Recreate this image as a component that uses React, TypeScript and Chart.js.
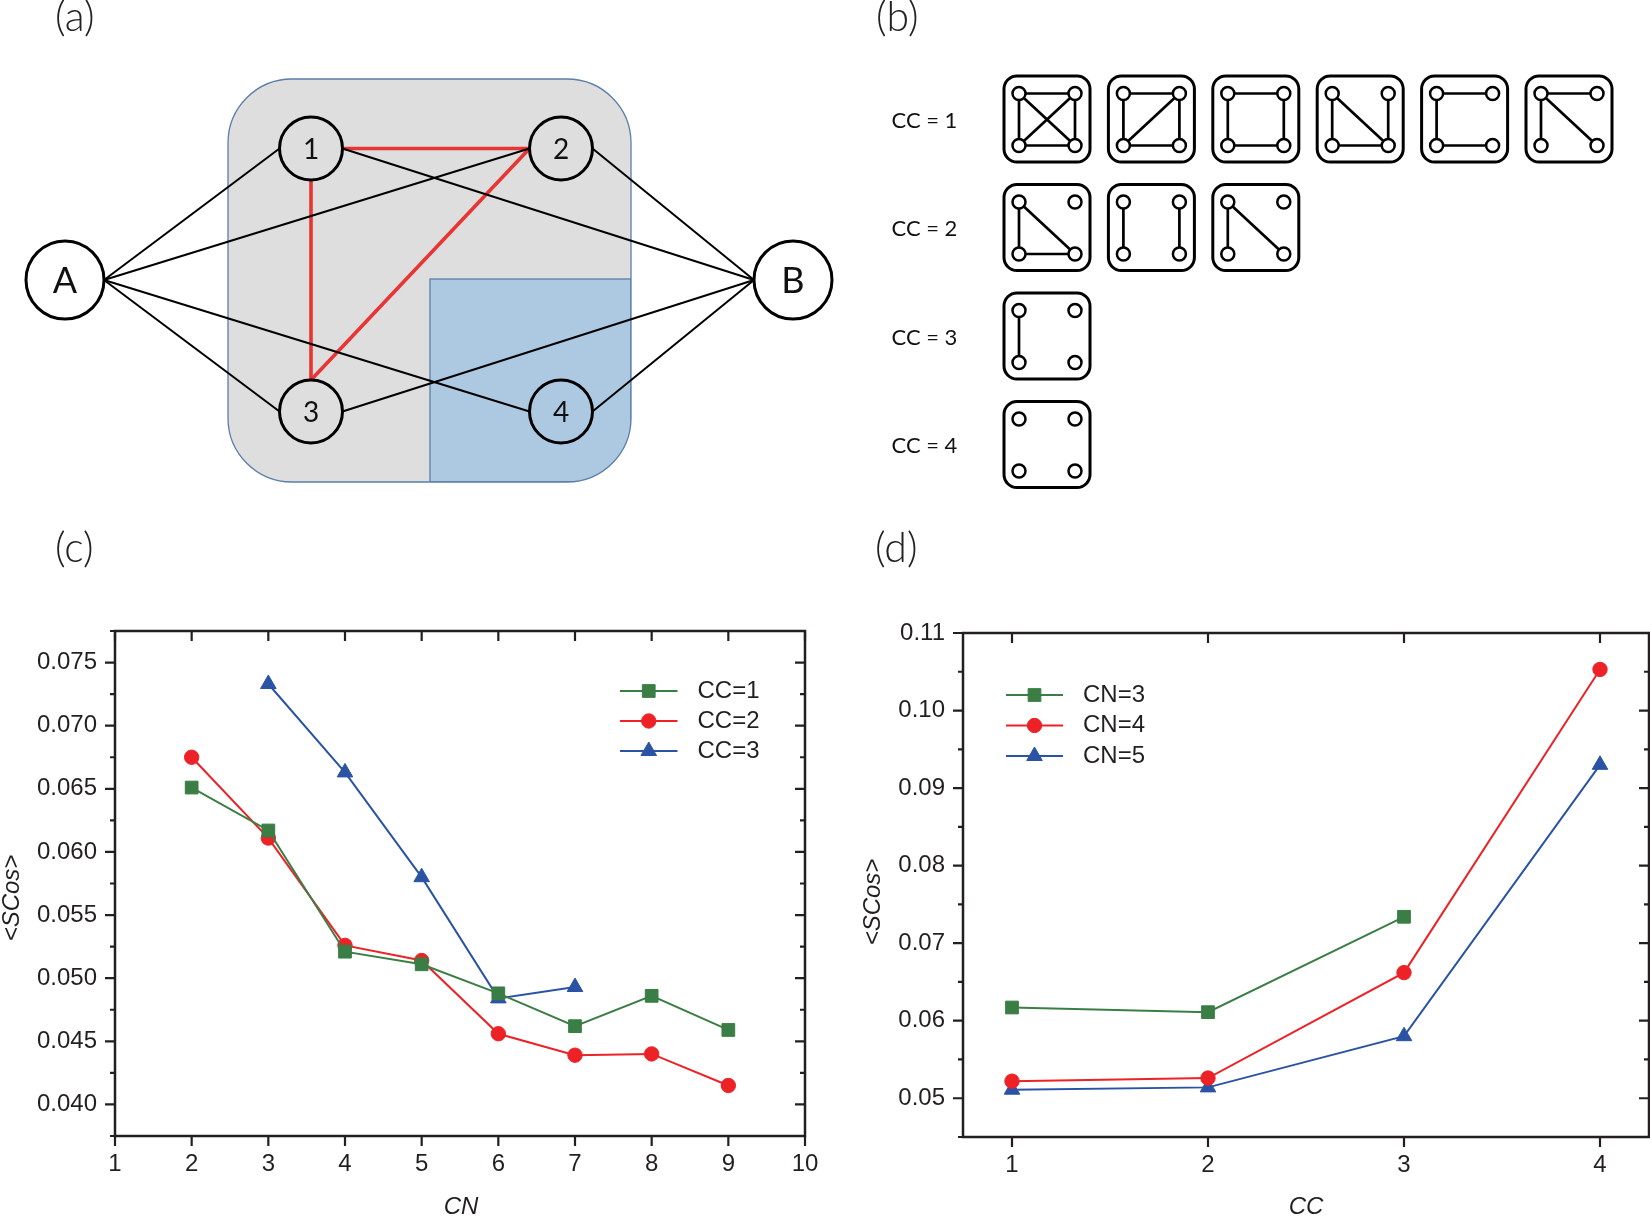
import React, { useEffect, useRef } from 'react';
import { Chart, registerables } from 'chart.js';

Chart.register(...registerables);

const PAGE_W = 1650;
const PAGE_H = 1216;

// ---------------- panel (c): <SCos> vs CN ----------------
const CN_C = [2, 3, 4, 5, 6, 7, 8, 9];
const CC1_SCOS = [0.0651, 0.0617, 0.0521, 0.0511, 0.0488, 0.0462, 0.0486, 0.0459];
const CC2_SCOS = [0.0675, 0.0611, 0.0526, 0.0514, 0.0456, 0.0439, 0.044, 0.0415];
const CN_C_CC3 = [3, 4, 5, 6, 7];
const CC3_SCOS = [0.0733, 0.0663, 0.058, 0.0484, 0.0493];
const X_TICKS_C = [1, 2, 3, 4, 5, 6, 7, 8, 9, 10];
const Y_TICKS_C = [0.04, 0.045, 0.05, 0.055, 0.06, 0.065, 0.07, 0.075];
const LEGEND_C = ['CC=1', 'CC=2', 'CC=3'];

// ---------------- panel (d): <SCos> vs CC ----------------
const CC_D = [1, 2, 3, 4];
const CC_D_CN3 = [1, 2, 3];
const CN3_SCOS = [0.0617, 0.0611, 0.0734];
const CN4_SCOS = [0.0522, 0.0526, 0.0662, 0.1053];
const CN5_SCOS = [0.0511, 0.0514, 0.058, 0.093];
const X_TICKS_D = [1, 2, 3, 4];
const Y_TICKS_D = [0.05, 0.06, 0.07, 0.08, 0.09, 0.1, 0.11];
const LEGEND_D = ['CN=3', 'CN=4', 'CN=5'];

// ---------------- panel (a): network diagram ----------------
const NET_NODES = [
  { id: 'A', x: 65, y: 280, r: 39 },
  { id: 'B', x: 793, y: 280, r: 39 },
  { id: '1', x: 311, y: 148.5, r: 31.5 },
  { id: '2', x: 561, y: 148.5, r: 31.5 },
  { id: '3', x: 311, y: 411.5, r: 31.5 },
  { id: '4', x: 561, y: 411.5, r: 31.5 },
];
// [from, fromSide, to, toSide]
const NET_BLACK_EDGES = [
  ['A', 'right', '1', 'left'],
  ['A', 'right', '2', 'left'],
  ['A', 'right', '3', 'left'],
  ['A', 'right', '4', 'left'],
  ['1', 'right', 'B', 'left'],
  ['2', 'right', 'B', 'left'],
  ['3', 'right', 'B', 'left'],
  ['4', 'right', 'B', 'left'],
];
const NET_RED_EDGES = [
  ['1', 'right', '2', 'left'],
  ['1', 'bottom', '3', 'top'],
  ['2', 'left', '3', 'top'],
];
const NET_GRAY_REGION = { x0: 228, y0: 79, x1: 631, y1: 482, r: 64 };
const NET_BLUE_REGION = { x0: 430, y0: 279, x1: 631, y1: 482 };

// ---------------- panel (b): motifs ----------------
// corner nodes: 0 = top-left, 1 = top-right, 2 = bottom-left, 3 = bottom-right
const MOTIF_ROW_LABELS = ['CC = 1', 'CC = 2', 'CC = 3', 'CC = 4'];
const MOTIFS_CC1 = [
  [[0, 1], [2, 3], [0, 2], [1, 3], [0, 3], [1, 2]],
  [[0, 1], [2, 3], [0, 2], [1, 3], [1, 2]],
  [[0, 1], [2, 3], [0, 2], [1, 3]],
  [[0, 2], [0, 3], [2, 3], [1, 3]],
  [[0, 1], [0, 2], [2, 3]],
  [[0, 1], [0, 2], [0, 3]],
];
const MOTIFS_CC2 = [
  [[0, 2], [0, 3], [2, 3]],
  [[0, 2], [1, 3]],
  [[0, 2], [0, 3]],
];
const MOTIFS_CC3 = [[[0, 2]]];
const MOTIFS_CC4 = [[]];
const MOTIF_ROWS = [MOTIFS_CC1, MOTIFS_CC2, MOTIFS_CC3, MOTIFS_CC4];

// ---------------- styles ----------------
const GREEN = '#3b7e45';
const RED = '#ec2227';
const BLUE = '#2a53a4';
const INK = '#231f20';
const SANS = "'Liberation Sans', Arial, Helvetica, sans-serif";
const DIAG_FONT = "Lato, 'Open Sans', 'Noto Sans', sans-serif";

const PANEL_LABELS = [
  { text: '(a)', left: 55, top: -4.5 },
  { text: '(b)', left: 876, top: -4.5 },
  { text: '(c)', left: 55, top: 526.5 },
  { text: '(d)', left: 875, top: 526.5 },
];

const toPoints = (xs: number[], ys: number[]) => xs.map((x, i) => ({ x, y: ys[i] }));

function drawMarker(ctx: CanvasRenderingContext2D, style: string, x: number, y: number, r: number) {
  ctx.beginPath();
  if (style === 'rect') {
    const h = r * Math.SQRT1_2;
    ctx.rect(x - h, y - h, 2 * h, 2 * h);
  } else if (style === 'triangle') {
    let a = 0;
    ctx.moveTo(x + Math.sin(a) * r, y - Math.cos(a) * r);
    a += (2 * Math.PI) / 3;
    ctx.lineTo(x + Math.sin(a) * r, y - Math.cos(a) * r);
    a += (2 * Math.PI) / 3;
    ctx.lineTo(x + Math.sin(a) * r, y - Math.cos(a) * r);
    ctx.closePath();
  } else {
    ctx.arc(x, y, r, 0, Math.PI * 2);
  }
  ctx.fill();
  ctx.stroke();
}

function roundRectPath(ctx: CanvasRenderingContext2D, x0: number, y0: number, x1: number, y1: number, r: number) {
  ctx.beginPath();
  ctx.moveTo(x0 + r, y0);
  ctx.lineTo(x1 - r, y0);
  ctx.arcTo(x1, y0, x1, y0 + r, r);
  ctx.lineTo(x1, y1 - r);
  ctx.arcTo(x1, y1, x1 - r, y1, r);
  ctx.lineTo(x0 + r, y1);
  ctx.arcTo(x0, y1, x0, y1 - r, r);
  ctx.lineTo(x0, y0 + r);
  ctx.arcTo(x0, y0, x0 + r, y0, r);
  ctx.closePath();
}

// frame + Origin-style ticks (outward bottom/left, inward top/right, minor ticks on y)
function frameTicksPlugin(yMinorHalfStep: number) {
  return {
    id: 'frameTicks',
    afterDraw(chart: any) {
      const { ctx, chartArea: a, scales } = chart;
      const xs = scales.x;
      const ys = scales.y;
      const MAJ = 10;
      const MIN = 5;
      ctx.save();
      ctx.strokeStyle = INK;
      ctx.lineWidth = 2.2;
      ctx.beginPath();
      xs.ticks.forEach((t: any) => {
        const px = xs.getPixelForValue(t.value);
        ctx.moveTo(px, a.bottom);
        ctx.lineTo(px, a.bottom + MAJ);
        ctx.moveTo(px, a.top);
        ctx.lineTo(px, a.top + MAJ);
      });
      const minors: number[] = [];
      ys.ticks.forEach((t: any) => {
        const py = ys.getPixelForValue(t.value);
        ctx.moveTo(a.left, py);
        ctx.lineTo(a.left - MAJ, py);
        ctx.moveTo(a.right, py);
        ctx.lineTo(a.right - MAJ, py);
        [-yMinorHalfStep, yMinorHalfStep].forEach((d) => {
          const m = t.value + d;
          if (m >= ys.min - 1e-9 && m <= ys.max + 1e-9 && !minors.some((v) => Math.abs(v - m) < 1e-9)) minors.push(m);
        });
      });
      minors.forEach((m) => {
        if (ys.ticks.some((t: any) => Math.abs(t.value - m) < 1e-9)) return;
        const py = ys.getPixelForValue(m);
        ctx.moveTo(a.left, py);
        ctx.lineTo(a.left - MIN, py);
        ctx.moveTo(a.right, py);
        ctx.lineTo(a.right - MIN, py);
      });
      ctx.stroke();
      ctx.lineWidth = 2.5;
      ctx.strokeRect(a.left, a.top, a.right - a.left, a.bottom - a.top);
      ctx.restore();
    },
  };
}

function legendPlugin(cfg: { x0: number; x1: number; textX: number; y0: number; dy: number }) {
  return {
    id: 'insideLegend',
    afterDraw(chart: any) {
      const { ctx } = chart;
      ctx.save();
      chart.data.datasets.forEach((ds: any, i: number) => {
        const y = cfg.y0 + i * cfg.dy;
        ctx.strokeStyle = ds.borderColor;
        ctx.lineWidth = ds.borderWidth;
        ctx.beginPath();
        ctx.moveTo(cfg.x0, y);
        ctx.lineTo(cfg.x1, y);
        ctx.stroke();
        ctx.fillStyle = ds.pointBackgroundColor;
        ctx.lineWidth = ds.pointBorderWidth;
        drawMarker(ctx, ds.pointStyle, (cfg.x0 + cfg.x1) / 2, y, ds.pointRadius);
        ctx.fillStyle = INK;
        ctx.font = `24px ${SANS}`;
        ctx.textAlign = 'left';
        ctx.textBaseline = 'middle';
        ctx.fillText(ds.label, cfg.textX, y);
      });
      ctx.restore();
    },
  };
}

function axisTitlesPlugin(cfg: { xText: string; xPos: number[]; yText: string; yPos: number[] }) {
  return {
    id: 'axisTitles',
    afterDraw(chart: any) {
      const { ctx } = chart;
      ctx.save();
      ctx.fillStyle = INK;
      ctx.font = `italic 24px ${SANS}`;
      ctx.textAlign = 'center';
      ctx.textBaseline = 'middle';
      ctx.fillText(cfg.xText, cfg.xPos[0], cfg.xPos[1]);
      ctx.translate(cfg.yPos[0], cfg.yPos[1]);
      ctx.rotate(-Math.PI / 2);
      ctx.fillText(cfg.yText, 0, 0);
      ctx.restore();
    },
  };
}

function seriesDataset(label: string, data: any[], color: string, style: string, radius: number) {
  return {
    label,
    data,
    borderColor: color,
    backgroundColor: color,
    borderWidth: 2,
    pointStyle: style,
    pointRadius: radius,
    pointBackgroundColor: color,
    pointBorderColor: color,
    pointBorderWidth: 1,
    tension: 0,
    fill: false,
  };
}

function plotScales(o: any) {
  const tickFont = { family: SANS, size: 24 };
  return {
    x: {
      type: 'linear',
      min: o.xMin,
      max: o.xMax,
      afterBuildTicks: (s: any) => {
        s.ticks = o.xTicks.map((v: number) => ({ value: v }));
      },
      afterFit: (s: any) => {
        s.height = o.xAxisHeight;
        s.paddingLeft = 0;
        s.paddingRight = 0;
      },
      grid: { display: false, drawTicks: false },
      border: { display: false },
      ticks: {
        padding: 13.5,
        font: tickFont,
        color: INK,
        autoSkip: false,
        maxRotation: 0,
        callback: (v: any) => String(v),
      },
    },
    y: {
      type: 'linear',
      min: o.yMin,
      max: o.yMax,
      afterBuildTicks: (s: any) => {
        s.ticks = o.yTicks.map((v: number) => ({ value: v }));
      },
      afterFit: (s: any) => {
        s.width = o.yAxisWidth;
        s.paddingTop = 0;
        s.paddingBottom = 0;
      },
      grid: { display: false, drawTicks: false },
      border: { display: false },
      ticks: {
        padding: 18,
        font: tickFont,
        color: INK,
        autoSkip: false,
        callback: (v: any) => Number(v).toFixed(o.yDecimals),
      },
    },
  };
}

function makeChartC() {
  return {
    type: 'line',
    data: {
      datasets: [
        seriesDataset(LEGEND_C[0], toPoints(CN_C, CC1_SCOS), GREEN, 'rect', 9),
        seriesDataset(LEGEND_C[1], toPoints(CN_C, CC2_SCOS), RED, 'circle', 7.2),
        seriesDataset(LEGEND_C[2], toPoints(CN_C_CC3, CC3_SCOS), BLUE, 'triangle', 9),
      ],
    },
    options: {
      animation: false,
      responsive: false,
      events: [],
      layout: { autoPadding: false, padding: { left: 0, top: 71, right: 20, bottom: 0 } },
      plugins: { legend: { display: false }, tooltip: { enabled: false } },
      scales: plotScales({
        xMin: 1, xMax: 10, xTicks: X_TICKS_C, xAxisHeight: 80,
        yMin: 0.0375, yMax: 0.0775, yTicks: Y_TICKS_C, yAxisWidth: 115, yDecimals: 3,
      }),
    },
    plugins: [
      frameTicksPlugin(0.0025),
      legendPlugin({ x0: 620, x1: 677.5, textX: 697.5, y0: 131, dy: 30 }),
      axisTitlesPlugin({ xText: 'CN', xPos: [461, 647], yText: '<SCos>', yPos: [12, 338] }),
    ],
  };
}

function makeChartD() {
  return {
    type: 'line',
    data: {
      datasets: [
        seriesDataset(LEGEND_D[0], toPoints(CC_D_CN3, CN3_SCOS), GREEN, 'rect', 9),
        seriesDataset(LEGEND_D[1], toPoints(CC_D, CN4_SCOS), RED, 'circle', 7.2),
        seriesDataset(LEGEND_D[2], toPoints(CC_D, CN5_SCOS), BLUE, 'triangle', 9),
      ],
    },
    options: {
      animation: false,
      responsive: false,
      events: [],
      layout: { autoPadding: false, padding: { left: 0, top: 73, right: 1, bottom: 0 } },
      plugins: { legend: { display: false }, tooltip: { enabled: false } },
      scales: plotScales({
        xMin: 0.75, xMax: 4.25, xTicks: X_TICKS_D, xAxisHeight: 79,
        yMin: 0.045, yMax: 0.11, yTicks: Y_TICKS_D, yAxisWidth: 138, yDecimals: 2,
      }),
    },
    plugins: [
      frameTicksPlugin(0.005),
      legendPlugin({ x0: 181, x1: 238, textX: 258, y0: 135, dy: 30.5 }),
      axisTitlesPlugin({ xText: 'CC', xPos: [481, 647], yText: '<SCos>', yPos: [48, 342] }),
    ],
  };
}

// ---------------- (a) network diagram on a hidden-axis scatter chart ----------------
const NET_W = 845;
const NET_H = 500;

function makeNetworkChart() {
  const byId: any = Object.fromEntries(NET_NODES.map((n) => [n.id, n]));
  const port = (id: string, side: string) => {
    const n = byId[id];
    const d: any = { left: [-1, 0], right: [1, 0], top: [0, -1], bottom: [0, 1] }[side];
    return { x: n.x + d[0] * n.r, y: n.y + d[1] * n.r };
  };
  const edge = (e: string[], color: string, width: number) => ({
    data: [port(e[0], e[1]), port(e[2], e[3])],
    showLine: true,
    borderColor: color,
    borderWidth: width,
    pointRadius: 0,
    order: 2,
  });
  const regionPlugin = {
    id: 'regions',
    beforeDatasetsDraw(chart: any) {
      const { ctx, scales } = chart;
      const X = (v: number) => scales.x.getPixelForValue(v);
      const Y = (v: number) => scales.y.getPixelForValue(v);
      const g = NET_GRAY_REGION;
      const b = NET_BLUE_REGION;
      ctx.save();
      roundRectPath(ctx, X(g.x0), Y(g.y0), X(g.x1), Y(g.y1), X(g.x0 + g.r) - X(g.x0));
      ctx.fillStyle = '#dedede';
      ctx.fill();
      ctx.save();
      ctx.clip();
      ctx.fillStyle = '#adc9e2';
      ctx.fillRect(X(b.x0), Y(b.y0), X(b.x1) - X(b.x0), Y(b.y1) - Y(b.y0));
      ctx.strokeStyle = '#5a7fa8';
      ctx.lineWidth = 1.3;
      ctx.strokeRect(X(b.x0), Y(b.y0), X(b.x1) - X(b.x0), Y(b.y1) - Y(b.y0));
      ctx.restore();
      roundRectPath(ctx, X(g.x0), Y(g.y0), X(g.x1), Y(g.y1), X(g.x0 + g.r) - X(g.x0));
      ctx.strokeStyle = '#5a7fa8';
      ctx.lineWidth = 1.3;
      ctx.stroke();
      ctx.restore();
    },
  };
  const labelPlugin = {
    id: 'nodeLabels',
    afterDatasetsDraw(chart: any) {
      const { ctx, scales } = chart;
      ctx.save();
      ctx.fillStyle = '#111';
      ctx.textAlign = 'center';
      ctx.textBaseline = 'middle';
      NET_NODES.forEach((n) => {
        const big = n.id === 'A' || n.id === 'B';
        ctx.font = `${big ? 36 : 28}px ${DIAG_FONT}`;
        ctx.fillText(n.id, scales.x.getPixelForValue(n.x), scales.y.getPixelForValue(n.y) + 1);
      });
      ctx.restore();
    },
  };
  return {
    type: 'scatter',
    data: {
      datasets: [
        {
          data: NET_NODES.map((n) => ({ x: n.x, y: n.y })),
          pointRadius: (c: any) => {
            const s = c.chart.scales.x;
            const n = NET_NODES[c.dataIndex];
            return n && s ? Math.abs(s.getPixelForValue(n.x + n.r) - s.getPixelForValue(n.x)) : 0;
          },
          pointBackgroundColor: 'rgba(0,0,0,0)',
          pointBorderColor: '#000',
          pointBorderWidth: 3,
          order: 0,
        },
        ...NET_BLACK_EDGES.map((e) => edge(e, '#000', 2)),
        ...NET_RED_EDGES.map((e) => edge(e, '#e83432', 3.6)),
      ],
    },
    options: {
      animation: false,
      responsive: false,
      events: [],
      layout: { autoPadding: false, padding: 0 },
      plugins: { legend: { display: false }, tooltip: { enabled: false } },
      scales: {
        x: { type: 'linear', display: false, min: 0, max: NET_W },
        y: { type: 'linear', display: false, min: 0, max: NET_H, reverse: true },
      },
    },
    plugins: [regionPlugin, labelPlugin],
  };
}

// ---------------- (b) motif icons on a hidden-axis scatter chart ----------------
const MOTIF_X_MIN = 845;
const MOTIF_W = 805;
const ICON_X0 = 1002.5;
const ICON_DX = 104.4;
const ICON_Y0 = 74.5;
const ICON_DY = 108.5;
const ICON_SIZE = 89;
const ICON_NODE_X = [16.5, 72.5];
const ICON_NODE_Y = [19, 71];
const ROW_LABEL_X = 891.5;

function makeMotifChart() {
  const iconOrigin = (row: number, col: number) => ({ x: ICON_X0 + col * ICON_DX, y: ICON_Y0 + row * ICON_DY });
  const corner = (row: number, col: number, k: number) => {
    const o = iconOrigin(row, col);
    return { x: o.x + ICON_NODE_X[k % 2], y: o.y + ICON_NODE_Y[Math.floor(k / 2)] };
  };
  const nodePts: any[] = [];
  const edgeSets: any[] = [];
  MOTIF_ROWS.forEach((motifs, row) => {
    motifs.forEach((edges: number[][], col: number) => {
      for (let k = 0; k < 4; k++) nodePts.push(corner(row, col, k));
      edges.forEach((e) => {
        edgeSets.push({
          data: [corner(row, col, e[0]), corner(row, col, e[1])],
          showLine: true,
          borderColor: '#000',
          borderWidth: 2.7,
          pointRadius: 0,
          order: 2,
        });
      });
    });
  });
  const framePlugin = {
    id: 'iconFrames',
    beforeDatasetsDraw(chart: any) {
      const { ctx, scales } = chart;
      const X = (v: number) => scales.x.getPixelForValue(v);
      const Y = (v: number) => scales.y.getPixelForValue(v);
      ctx.save();
      ctx.strokeStyle = '#000';
      ctx.lineWidth = 3;
      MOTIF_ROWS.forEach((motifs, row) => {
        motifs.forEach((_m: any, col: number) => {
          const o = iconOrigin(row, col);
          roundRectPath(ctx, X(o.x + 1.5), Y(o.y + 1.5), X(o.x + ICON_SIZE - 1.5), Y(o.y + ICON_SIZE - 1.5), 13);
          ctx.stroke();
        });
      });
      ctx.fillStyle = '#111';
      ctx.font = `22px ${DIAG_FONT}`;
      ctx.textAlign = 'left';
      ctx.textBaseline = 'middle';
      MOTIF_ROW_LABELS.forEach((t, row) => {
        const o = iconOrigin(row, 0);
        ctx.fillText(t, X(ROW_LABEL_X), Y(o.y + ICON_SIZE / 2 + 1.5));
      });
      ctx.restore();
    },
  };
  return {
    type: 'scatter',
    data: {
      datasets: [
        {
          data: nodePts,
          pointRadius: 6.5,
          pointBackgroundColor: '#fff',
          pointBorderColor: '#000',
          pointBorderWidth: 2.5,
          order: 0,
        },
        ...edgeSets,
      ],
    },
    options: {
      animation: false,
      responsive: false,
      events: [],
      layout: { autoPadding: false, padding: 0 },
      plugins: { legend: { display: false }, tooltip: { enabled: false } },
      scales: {
        x: { type: 'linear', display: false, min: MOTIF_X_MIN, max: MOTIF_X_MIN + MOTIF_W },
        y: { type: 'linear', display: false, min: 0, max: NET_H, reverse: true },
      },
    },
    plugins: [framePlugin],
  };
}

function ChartCanvas(props: { left: number; top: number; width: number; height: number; make: () => any }) {
  const ref = useRef<HTMLCanvasElement | null>(null);
  useEffect(() => {
    if (!ref.current) return;
    const chart = new Chart(ref.current, props.make());
    return () => chart.destroy();
  }, []);
  return (
    <canvas
      ref={ref}
      width={props.width}
      height={props.height}
      style={{ position: 'absolute', left: props.left, top: props.top, width: props.width, height: props.height }}
    />
  );
}

export default function App() {
  useEffect(() => {
    document.body.style.margin = '0';
  }, []);
  return (
    <div style={{ position: 'absolute', left: 0, top: 0, width: PAGE_W, height: PAGE_H, background: '#fff', overflow: 'hidden' }}>
      <ChartCanvas left={0} top={0} width={NET_W} height={NET_H} make={makeNetworkChart} />
      <ChartCanvas left={MOTIF_X_MIN} top={0} width={MOTIF_W} height={NET_H} make={makeMotifChart} />
      <ChartCanvas left={0} top={560} width={825} height={656} make={makeChartC} />
      <ChartCanvas left={825} top={560} width={825} height={656} make={makeChartD} />
      {PANEL_LABELS.map((p) => (
        <div
          key={p.text}
          style={{
            position: 'absolute',
            left: p.left,
            top: p.top,
            height: 40,
            lineHeight: '40px',
            fontFamily: DIAG_FONT,
            fontWeight: 300,
            fontSize: 41,
            color: '#222',
            whiteSpace: 'nowrap',
          }}
        >
          {p.text}
        </div>
      ))}
    </div>
  );
}
